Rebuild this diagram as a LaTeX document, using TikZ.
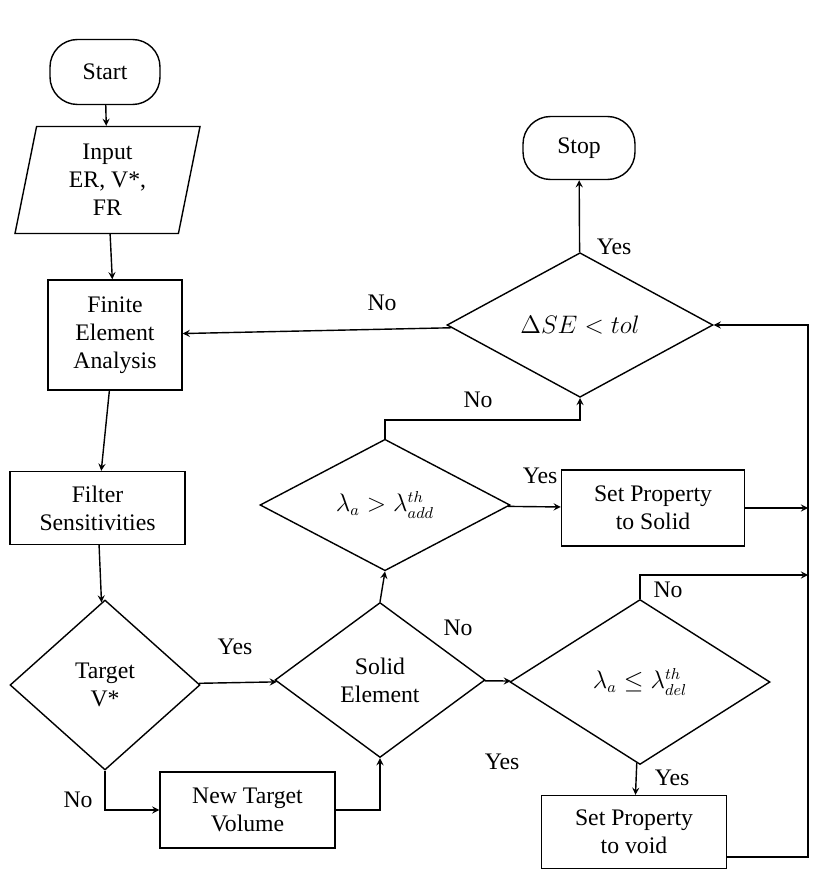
\documentclass[tikz,border=0pt]{standalone}
\usepackage{amsmath}
\usepackage{fontspec}
\setmainfont{Liberation Serif}
\usetikzlibrary{shapes.geometric}

\begin{document}
\begin{tikzpicture}[font=\fontsize{13.5}{16}\selectfont]
        \useasboundingbox (0,0) rectangle (16.4,-17.82);
        \begin{scope}[every node/.style={draw,thick,rectangle,inner sep=1, align=center}]
            \node[rounded corners=0.55cm, minimum width=2.2cm, minimum height=1.3cm] (Start) at (2.1,-1.44) {Start};
            \node[trapezium, trapezium left angle=74, trapezium right angle=106, trapezium stretches body, minimum width=3.7cm, minimum height=2.14cm] (Input) at (2.15,-3.6) {Input\\ER, V*,\\FR};
            \node[minimum width=2.68cm, minimum height=2.2cm] (FEA) at (2.3,-6.7) {Finite\\Element\\Analysis};
            \node[minimum width=3.5cm, minimum height=1.46cm] (Filter) at (1.95,-10.16) {Filter\\Sensitivities};
            \node[diamond, minimum width=3.8cm, minimum height=3.4cm] (Target) at (2.1,-13.7) {Target\\V*};
            \node[minimum width=3.5cm, minimum height=1.52cm] (NewTarget) at (4.95,-16.2) {New Target\\Volume};
            \node[diamond, minimum width=4.2cm, minimum height=3.1cm] (Solid) at (7.6,-13.6) {Solid\\Element};
            \node[diamond, minimum width=5cm, minimum height=2.6cm] (Add) at (7.7,-10.1) {\(\lambda_a > \lambda_{add}^{th}\)};
            \node[minimum width=3.66cm, minimum height=1.52cm] (SetSolid) at (13.06,-10.16) {Set Property\\to Solid};
            \node[diamond, minimum width=5.32cm, minimum height=2.4cm] (SE) at (11.6,-6.5) {\(\Delta SE < tol\)};
            \node[rounded corners=0.55cm, minimum width=2.24cm, minimum height=1.26cm] (Stop) at (11.58,-2.96) {Stop};
            \node[diamond, minimum width=5.2cm, minimum height=3.3cm] (Del) at (12.8,-13.64) {\(\lambda_a \le \lambda_{del}^{th}\)};
            \node[minimum width=3.7cm, minimum height=1.46cm] (Void) at (12.68,-16.64) {Set Property\\to void};
        \end{scope}
        \coordinate (AddUp) at (7.7,-8.4);
        \coordinate (BusTop) at (16.16,-6.5);
        \coordinate (DelBus) at (16.16,-11.5);
        \begin{scope}[every path/.style={thick, ->, >=stealth}]
            \draw (Start) -- (Input);
            \draw (Input) -- (FEA);
            \draw (FEA) -- (Filter);
            \draw (Filter) -- (Target);
            \draw (Target) -- (Solid);
            \draw (Target.south) |- (NewTarget.west);
            \draw (NewTarget.east) -| (Solid.south);
            \draw (Solid.north) -- (Add.south);
            \draw (Solid) -- (Del);
            \draw (Add) -- (SetSolid);
            \draw (Add.north) -- (AddUp) -| (SE.south);
            \draw (SE) -- (FEA);
            \draw (SE) -- (Stop);
            \draw (Del) -- (Void);
            \draw (Del.north) |- (DelBus);
            \draw (SetSolid.east) -- (SetSolid.east -| BusTop);
            \draw ([yshift=-0.5cm]Void.east) -| (BusTop) -- (SE.east);
        \end{scope}
        \begin{scope}[every node/.style={inner sep=1}]
            \node at (4.7,-12.94) {Yes};
            \node at (1.56,-16) {No};
            \node at (9.16,-12.56) {No};
            \node at (10.8,-9.52) {Yes};
            \node at (9.56,-8) {No};
            \node at (7.64,-6.06) {No};
            \node at (12.28,-4.94) {Yes};
            \node at (13.36,-11.8) {No};
            \node at (13.44,-15.56) {Yes};
            \node at (10.04,-15.24) {Yes};
        \end{scope}
    \end{tikzpicture}
\end{document}
